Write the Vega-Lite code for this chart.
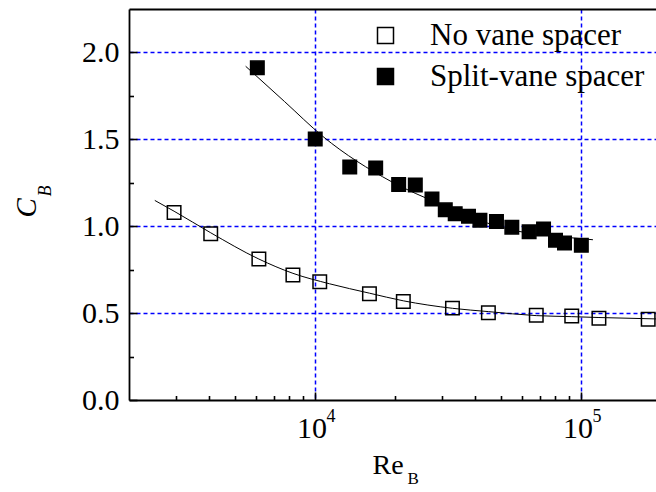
{
  "$schema": "https://vega.github.io/schema/vega-lite/v6.json",
  "width": 527,
  "height": 391,
  "autosize": {"type": "none"},
  "padding": {"left": 129, "top": 9, "right": 0, "bottom": 92},
  "config": {
    "view": {"stroke": null},
    "font": "Liberation Serif",
    "axis": {
      "labelFont": "Liberation Serif", "labelFontSize": 30, "labelColor": "black",
      "titleFont": "Liberation Serif", "titleFontSize": 28, "titleColor": "black", "titleFontWeight": "normal",
      "domainColor": "black", "domainWidth": 1.8, "tickColor": "black", "tickWidth": 1.6,
      "gridColor": "#0000ff", "gridDash": [4, 3], "gridWidth": 1.5, "gridOpacity": 1
    }
  },
  "datasets": {
    "pts": [
      {"Re": 2953, "C": 1.078, "series": "No vane spacer"},
      {"Re": 4055, "C": 0.955, "series": "No vane spacer"},
      {"Re": 6152, "C": 0.810, "series": "No vane spacer"},
      {"Re": 8260, "C": 0.719, "series": "No vane spacer"},
      {"Re": 10420, "C": 0.679, "series": "No vane spacer"},
      {"Re": 16020, "C": 0.610, "series": "No vane spacer"},
      {"Re": 21480, "C": 0.566, "series": "No vane spacer"},
      {"Re": 32870, "C": 0.528, "series": "No vane spacer"},
      {"Re": 44860, "C": 0.502, "series": "No vane spacer"},
      {"Re": 67900, "C": 0.487, "series": "No vane spacer"},
      {"Re": 92300, "C": 0.483, "series": "No vane spacer"},
      {"Re": 116800, "C": 0.470, "series": "No vane spacer"},
      {"Re": 178900, "C": 0.464, "series": "No vane spacer"},
      {"Re": 6070, "C": 1.909, "series": "Split-vane spacer"},
      {"Re": 10020, "C": 1.500, "series": "Split-vane spacer"},
      {"Re": 13510, "C": 1.339, "series": "Split-vane spacer"},
      {"Re": 16910, "C": 1.334, "series": "Split-vane spacer"},
      {"Re": 20630, "C": 1.239, "series": "Split-vane spacer"},
      {"Re": 23830, "C": 1.235, "series": "Split-vane spacer"},
      {"Re": 27530, "C": 1.155, "series": "Split-vane spacer"},
      {"Re": 30890, "C": 1.093, "series": "Split-vane spacer"},
      {"Re": 33660, "C": 1.071, "series": "Split-vane spacer"},
      {"Re": 37760, "C": 1.056, "series": "Split-vane spacer"},
      {"Re": 41690, "C": 1.033, "series": "Split-vane spacer"},
      {"Re": 48110, "C": 1.026, "series": "Split-vane spacer"},
      {"Re": 54950, "C": 0.993, "series": "Split-vane spacer"},
      {"Re": 63830, "C": 0.967, "series": "Split-vane spacer"},
      {"Re": 72310, "C": 0.983, "series": "Split-vane spacer"},
      {"Re": 80200, "C": 0.918, "series": "Split-vane spacer"},
      {"Re": 86700, "C": 0.902, "series": "Split-vane spacer"},
      {"Re": 100300, "C": 0.889, "series": "Split-vane spacer"}
    ],
    "fit": [
      {"Re": 2499, "C": 1.147, "series": "No vane spacer"},
      {"Re": 2953, "C": 1.085, "series": "No vane spacer"},
      {"Re": 4055, "C": 0.961, "series": "No vane spacer"},
      {"Re": 6152, "C": 0.810, "series": "No vane spacer"},
      {"Re": 8260, "C": 0.728, "series": "No vane spacer"},
      {"Re": 11335, "C": 0.668, "series": "No vane spacer"},
      {"Re": 16020, "C": 0.614, "series": "No vane spacer"},
      {"Re": 21480, "C": 0.570, "series": "No vane spacer"},
      {"Re": 32870, "C": 0.527, "series": "No vane spacer"},
      {"Re": 44860, "C": 0.508, "series": "No vane spacer"},
      {"Re": 67900, "C": 0.485, "series": "No vane spacer"},
      {"Re": 92300, "C": 0.479, "series": "No vane spacer"},
      {"Re": 116800, "C": 0.474, "series": "No vane spacer"},
      {"Re": 191420, "C": 0.466, "series": "No vane spacer"},
      {"Re": 5486, "C": 1.918, "series": "Split-vane spacer"},
      {"Re": 7684, "C": 1.715, "series": "Split-vane spacer"},
      {"Re": 10700, "C": 1.515, "series": "Split-vane spacer"},
      {"Re": 19320, "C": 1.256, "series": "Split-vane spacer"},
      {"Re": 29310, "C": 1.128, "series": "Split-vane spacer"},
      {"Re": 44440, "C": 1.017, "series": "Split-vane spacer"},
      {"Re": 58480, "C": 0.969, "series": "Split-vane spacer"},
      {"Re": 80000, "C": 0.942, "series": "Split-vane spacer"},
      {"Re": 110900, "C": 0.921, "series": "Split-vane spacer"}
    ]
  },
  "layer": [
    {
      "data": {"name": "fit"},
      "mark": {"type": "line", "color": "black", "strokeWidth": 1, "interpolate": "monotone"},
      "encoding": {
        "x": {"field": "Re", "type": "quantitative",
          "scale": {"type": "log", "domain": [1998.7, 191420], "nice": false},
          "axis": {"orient": "bottom", "values": [10000, 100000], "labelExpr": "'10'", "labelOffset": -3.5,
            "tickSize": -8, "labelPadding": 21, "labelBaseline": "top", "labelFlush": false, "grid": true,
            "title": "Re", "titleX": 243, "titleY": 73, "titleAlign": "left", "titleBaseline": "alphabetic"}},
        "y": {"field": "C", "type": "quantitative",
          "scale": {"domain": [0, 2.24713], "nice": false},
          "axis": {"orient": "left", "values": [0, 0.5, 1, 1.5, 2], "format": ".1f", "tickSize": -8, "labelPadding": 18,
            "grid": false, "title": "C", "titleFontSize": 29, "titleFontStyle": "italic", "titleAngle": -90, "titleX": -94, "titleY": 208,
            "titleAlign": "left", "titleBaseline": "alphabetic"}},
        "detail": {"field": "series"}
      }
    },
    {
      "data": {"name": "pts"},
      "mark": {"type": "point", "shape": "square", "filled": true, "stroke": "black", "strokeWidth": 1.5, "size": 182, "opacity": 1},
      "encoding": {
        "x": {"field": "Re", "type": "quantitative",
          "scale": {"type": "log", "domain": [1998.7, 191420], "nice": false},
          "axis": {"orient": "bottom", "values": [3000, 4000, 5000, 6000, 7000, 8000, 9000, 20000, 30000, 40000, 50000, 60000, 70000, 80000, 90000],
            "tickSize": -4.5, "labels": false, "domain": false, "grid": false,
            "title": "B", "titleFontSize": 17, "titleX": 278, "titleY": 83, "titleAlign": "left", "titleBaseline": "alphabetic"}},
        "y": {"field": "C", "type": "quantitative",
          "scale": {"domain": [0, 2.24713], "nice": false},
          "axis": {"orient": "left", "values": [0.25, 0.75, 1.25, 1.75], "tickSize": -4.5, "labels": false, "domain": false, "grid": false,
            "title": "B", "titleFontSize": 18, "titleFontStyle": "italic", "titleAngle": -90, "titleX": -79, "titleY": 187,
            "titleAlign": "left", "titleBaseline": "alphabetic"}},
        "fill": {"field": "series", "type": "nominal",
          "scale": {"domain": ["No vane spacer", "Split-vane spacer"], "range": ["transparent", "black"]},
          "legend": {"orient": "none", "legendX": 241, "legendY": 11, "title": null, "labelFont": "Liberation Serif",
            "labelFontSize": 31, "labelColor": "black", "labelLimit": 0, "symbolType": "square", "symbolSize": 256,
            "symbolStrokeColor": "black", "symbolStrokeWidth": 1.5, "labelOffset": 29, "rowPadding": 9, "padding": 0}}
      }
    },
    {
      "data": {"name": "pts"},
      "mark": {"type": "point", "opacity": 0},
      "encoding": {
        "x": {"field": "Re", "type": "quantitative",
          "scale": {"type": "log", "domain": [1998.7, 191420], "nice": false},
          "axis": {"orient": "top", "ticks": false, "labels": false, "grid": false, "domain": true, "title": null}},
        "y": {"field": "C", "type": "quantitative",
          "scale": {"domain": [0, 2.24713], "nice": false},
          "axis": {"orient": "left", "values": [0.5, 1, 1.5, 2], "ticks": false, "labels": false, "domain": false, "grid": true, "title": null}}
      }
    },
    {
      "data": {"name": "pts"},
      "mark": {"type": "point", "opacity": 0},
      "encoding": {
        "x": {"field": "Re", "type": "quantitative",
          "scale": {"type": "log", "domain": [1998.7, 191420], "nice": false},
          "axis": {"orient": "bottom", "values": [10000, 100000], "labelExpr": "datum.value == 10000 ? '4' : '5'",
            "labelFontSize": 18, "labelOffset": 15.5, "labelPadding": 7, "labelBaseline": "top", "labelFlush": false,
            "ticks": false, "domain": false, "grid": false, "title": null}},
        "y": {"field": "C", "type": "quantitative",
          "scale": {"domain": [0, 2.24713], "nice": false},
          "axis": null}
      }
    }
  ],
  "resolve": {"axis": {"x": "independent", "y": "independent"}}
}
